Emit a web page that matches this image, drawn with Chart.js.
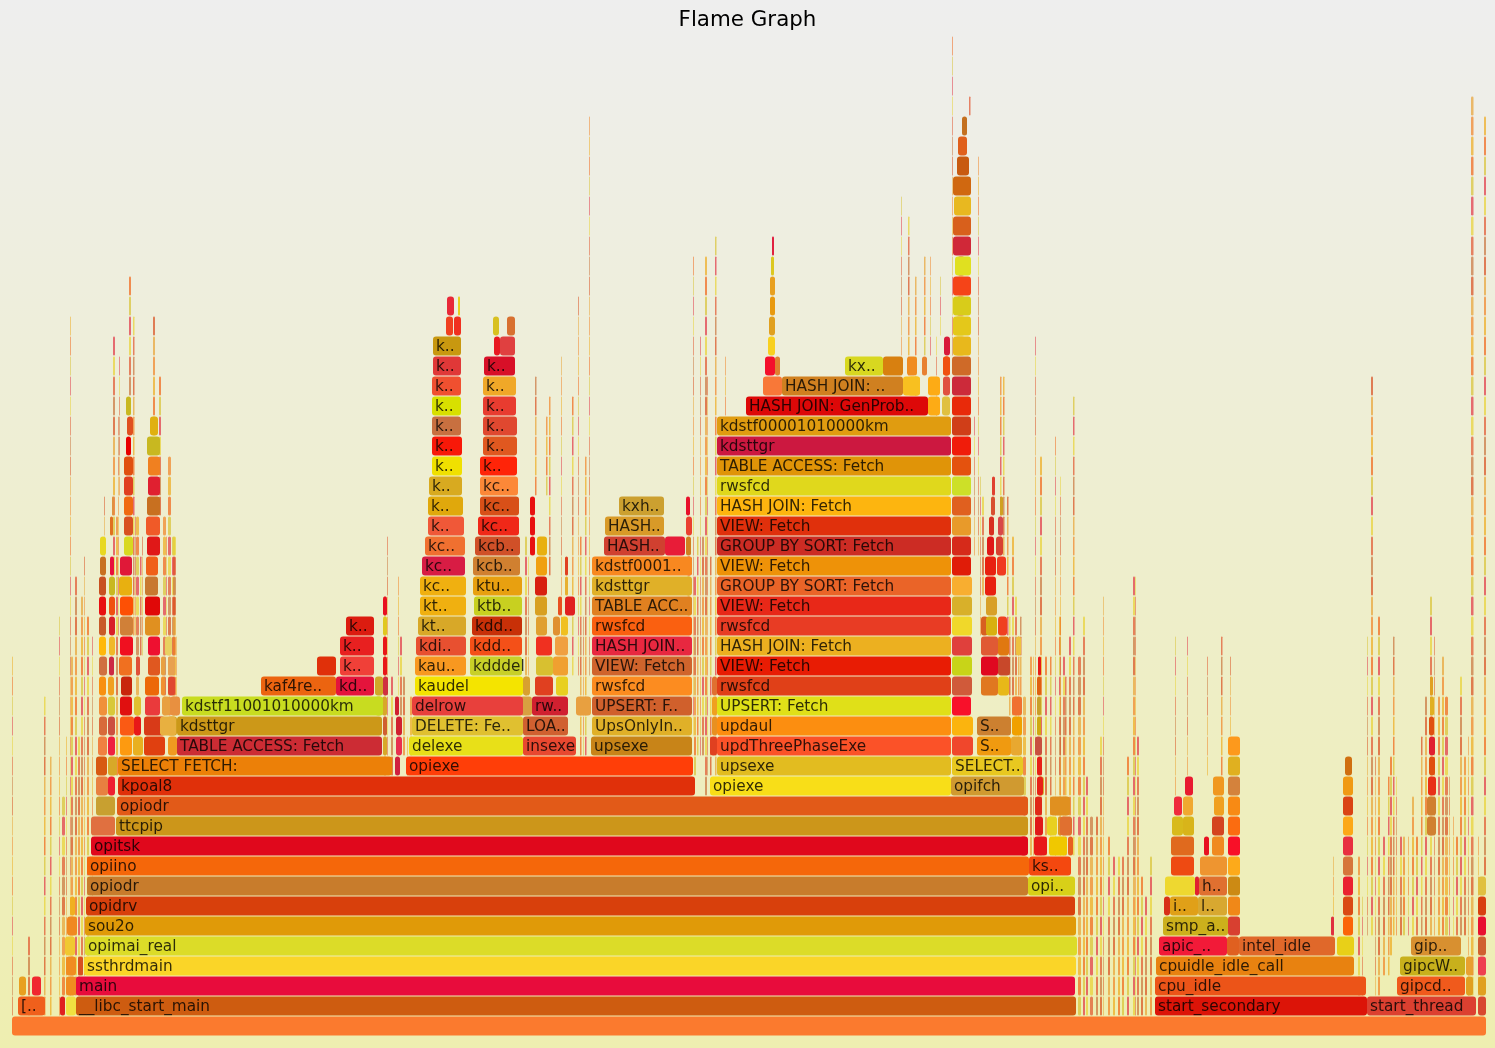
<!DOCTYPE html>
<html>
<head>
<meta charset="utf-8">
<title>Flame Graph</title>
<script src="https://cdn.jsdelivr.net/npm/chart.js@4"></script>
<style>
  html, body { margin: 0; padding: 0; }
  canvas { display: block; background: linear-gradient(#eeeeee, #eeeeb0); }
</style>
</head>
<body>
<canvas id="flame" width="1495" height="1048"></canvas>
<script>
// Frames with a name: one line per stack depth (index = depth), x in samples
const frameSpans = [
  [[12,1486]],
  [[18,45],[76,1076],[1155,1367],[1367,1476]],
  [[76,1075],[1155,1366],[1397,1465]],
  [[84,1076],[1156,1354],[1400,1465]],
  [[85,1077],[1159,1227],[1239,1335],[1411,1461]],
  [[85,1076],[1163,1228]],
  [[86,1075],[1170,1198],[1198,1227]],
  [[87,1028],[1028,1075],[1199,1227]],
  [[87,1029],[1029,1071]],
  [[91,1028]],
  [[116,1028]],
  [[117,1028]],
  [[118,695],[710,951],[951,1024]],
  [[118,392],[406,693],[717,951],[952,1023]],
  [[177,382],[409,523],[523,576],[591,692],[717,951],[977,1011]],
  [[177,382],[412,523],[523,568],[592,692],[717,951],[977,1011]],
  [[182,383],[412,523],[532,568],[592,692],[717,951]],
  [[261,336],[336,374],[415,523],[592,692],[717,951]],
  [[317,336],[340,374],[415,466],[470,522],[592,692],[717,951]],
  [[340,374],[416,466],[470,522],[592,692],[717,951]],
  [[346,374],[418,466],[472,522],[592,692],[717,951]],
  [[420,466],[474,522],[592,692],[717,951]],
  [[420,466],[473,522],[592,692],[717,951]],
  [[422,465],[473,520],[592,692],[717,951]],
  [[425,465],[475,520],[604,665],[665,685],[717,951]],
  [[428,464],[478,519],[605,664],[717,951]],
  [[428,463],[480,519],[619,664],[717,951]],
  [[429,462],[480,518],[717,951]],
  [[432,462],[480,517],[717,951]],
  [[432,462],[483,517],[717,951]],
  [[432,461],[483,517],[717,951]],
  [[432,461],[483,516],[746,928]],
  [[432,461],[483,516],[782,903]],
  [[433,461],[484,515],[845,883]],
  [[433,461],[500,515]]
];
const frameNames = [
  [''],
  ['[..','__libc_start_main','start_secondary','start_thread'],
  ['main','cpu_idle','gipcd..'],
  ['ssthrdmain','cpuidle_idle_call','gipcW..'],
  ['opimai_real','apic_..','intel_idle','gip..'],
  ['sou2o','smp_a..'],
  ['opidrv','i..','l..'],
  ['opiodr','opi..','h..'],
  ['opiino','ks..'],
  ['opitsk'],
  ['ttcpip'],
  ['opiodr'],
  ['kpoal8','opiexe','opifch'],
  ['SELECT FETCH:','opiexe','upsexe','SELECT..'],
  ['TABLE ACCESS: Fetch','delexe','insexe','upsexe','updThreePhaseExe','S..'],
  ['kdsttgr','DELETE: Fe..','LOA..','UpsOnlyIn..','updaul','S..'],
  ['kdstf11001010000km','delrow','rw..','UPSERT: F..','UPSERT: Fetch'],
  ['kaf4re..','kd..','kaudel','rwsfcd','rwsfcd'],
  ['','k..','kau..','kdddel','VIEW: Fetch','VIEW: Fetch'],
  ['k..','kdi..','kdd..','HASH JOIN..','HASH JOIN: Fetch'],
  ['k..','kt..','kdd..','rwsfcd','rwsfcd'],
  ['kt..','ktb..','TABLE ACC..','VIEW: Fetch'],
  ['kc..','ktu..','kdsttgr','GROUP BY SORT: Fetch'],
  ['kc..','kcb..','kdstf0001..','VIEW: Fetch'],
  ['kc..','kcb..','HASH..','','GROUP BY SORT: Fetch'],
  ['k..','kc..','HASH..','VIEW: Fetch'],
  ['k..','kc..','kxh..','HASH JOIN: Fetch'],
  ['k..','kc..','rwsfcd'],
  ['k..','k..','TABLE ACCESS: Fetch'],
  ['k..','k..','kdsttgr'],
  ['k..','k..','kdstf00001010000km'],
  ['k..','k..','HASH JOIN: GenProb..'],
  ['k..','k..','HASH JOIN: ..'],
  ['k..','k..','kx..'],
  ['k..','']
];
const frameColors = [
  ['#fb7a2e'],
  ['#f0601c','#ce5c10','#dc1408','#dc4030'],
  ['#e80c3c','#ec5418','#f05a1c'],
  ['#fad528','#e88210','#c8b01c'],
  ['#dcdc28','#f21a38','#e0682a','#d89030'],
  ['#e09a08','#ccb01c'],
  ['#d8400c','#e0a018','#d8a830'],
  ['#c87c2c','#d8d018','#e07030'],
  ['#f5670a','#f4480f'],
  ['#e0081c'],
  ['#cc961a'],
  ['#e25a18'],
  ['#e0300a','#f8de18','#d09a30'],
  ['#ec8008','#ff3e08','#e2bc20','#e8c820'],
  ['#cc2c34','#e8e018','#e84830','#c88418','#fb5228','#f09a10'],
  ['#cc9818','#e0c030','#d06030','#e0b028','#fc8e10','#cc8030'],
  ['#c8dc20','#e8403c','#d02030','#d0602c','#e0e018'],
  ['#ec6410','#e4143c','#f4e400','#fc8c20','#e04018'],
  ['#e0300a','#f04038','#f89820','#c8d028','#d0642c','#e81c04'],
  ['#e82020','#e85030','#f45018','#e82840','#ecb020'],
  ['#dc1c10','#d8a828','#c83008','#fa6010','#e83c24'],
  ['#f0b010','#c8d020','#e08020','#e82818'],
  ['#f0b010','#e8a010','#e0b028','#ea6428'],
  ['#d81c44','#d08030','#f88820','#ee9208'],
  ['#f07030','#d05028','#d04030','#e81c38','#cc2c24'],
  ['#f05838','#f02818','#d89a28','#e0300c'],
  ['#e0a80c','#d85018','#cca030','#fdb50f'],
  ['#d8aa20','#fc8838','#e0d81c'],
  ['#f0e000','#ff2408','#e09408'],
  ['#f81808','#e05820','#cc1840'],
  ['#c87040','#e04830','#e09c10'],
  ['#d8e000','#e83c30','#dd0808'],
  ['#f05030','#f0a828','#d08020'],
  ['#e03838','#d81028','#d8d820'],
  ['#c89810','#e04040']
];

// Unnamed wider frames: depth, start, end (same index across the four arrays)
const blockDepth = [
  19,19,19,19,19, 18,18,18,18,18,18,18, 17,17,17,17,17,17, 16,16,16,16,16,16,16,
  15,15,15,15,15,15, 14,14,14,14,14,14, 13,13, 12,12, 11, 10,
  20,20,20,20, 21,21,21,21, 22,22,22,22, 23,23,23,23, 24,24,24, 25,25,25, 26,26,26, 27,27, 28,28, 29,29, 30,30, 31,
  1,1,2,2,2,3,3,4,5,6,
  14,15,15,16,16,16,17,17,17,18,18,19,19,20,20,20,21,21,21,22,22,23,23,24,
  9,9,9,9,10,10,10,10,11,11,12,
  5,6,6,7,7,7,8,8,8,9,9,9,9,10,10,10,10,11,11,11,11,12,12,12,13,14,
  5,4,4,5,6,7,8,9,10,11,12,13,
  17,17,18,18,19,19,19,20,20,20,21,22,23,23,24,24,25,25,26,26,27,
  32,32,33,33,33,34,34,35,36,37,38,
  35,35,35,35,36,36,34,
  32,31,31,32,33,33,34,
  24,25,26,
  1,2,3,4,5,6,7, 2,3,
  32,33,33,35,36,37,38,39,
  12,13,14,15,16,17,18, 14,15,16,
  13,21,20,19,18,17,16,15,14,17,16,
  26,25,24,23,22,21,14,15,16,17,
  10,11,12,13,14,15,16,17
];
const blockStart = [
  99,109,120,148,165, 99,109,119,136,148,161,168, 99,108,121,145,161,168, 99,108,120,134,145,162,170,
  99,108,120,134,144,168, 98,108,120,133,144,168, 96,108, 96,108, 96, 91,
  99,109,120,145, 99,109,120,145, 99,109,119,145, 100,110,120,146, 100,124,147, 110,124,146, 124,147,112, 124,148, 124,148, 126,147, 127,150, 126,
  60,66,19,32,66,66,78,65,67,70,
  396,396,160,395,520,576,523,535,556,536,553,536,555,536,553,561,535,558,565,535,565,536,565,537,
  1020,1034,1049,1068,1035,1047,1058,1060,1035,1050,1037,
  1228,1164,1228,1165,1195,1228,1171,1200,1228,1171,1204,1212,1228,1172,1183,1212,1228,1174,1183,1214,1228,1185,1213,1228,1228,1228,
  1331,1227,1337,1343,1343,1343,1343,1343,1343,1343,1343,1345,
  981,998,981,998,981,998,1016,981,986,998,986,985,985,997,987,996,989,998,991,1000,992,
  903,908,907,922,943,944,955,955,956,957,957,
  446,454,493,507,447,458,494,
  928,928,942,943,943,765,768,
  530,530,530,
  1478,1478,1478,1478,1478,1478,1478, 1466,1466,
  763,883,775,769,770,770,771,772,
  1037,1037,1035,1037,1037,1037,1038, 1011,1012,1012,
  395,383,383,383,383,375,375,383,383,383,382,
  686,686,686,686,686,686,710,712,712,712,
  1427,1427,1428,1429,1429,1429,1430,1430
];
const blockEnd = [
  106,115,133,160,172, 107,114,132,140,160,165,175, 106,114,132,159,165,175, 107,115,132,141,160,170,180,
  107,115,134,141,165,177, 107,115,132,143,165,177, 107,117, 108,115, 115, 115,
  106,115,133,160, 106,115,133,160, 106,115,132,158, 106,114,132,158, 106,133,160, 113,133,160, 133,160,114, 133,160, 133,160, 131,160, 133,158, 131,
  65,76,26,41,76,76,83,75,77,75,
  402,402,176,399,532,591,530,553,568,553,568,552,568,547,560,568,547,562,575,547,568,547,568,547,
  1027,1047,1067,1073,1043,1057,1062,1072,1042,1070,1044,
  1240,1170,1240,1195,1199,1240,1194,1227,1240,1194,1209,1224,1240,1183,1194,1224,1240,1182,1193,1224,1240,1193,1224,1240,1240,1240,
  1334,1239,1354,1353,1353,1353,1353,1353,1353,1353,1353,1352,
  998,1009,998,1010,998,1009,1021,988,997,1007,997,996,996,1006,994,1003,994,1003,995,1003,995,
  920,920,917,927,950,950,965,965,965,965,965,
  453,461,499,515,454,460,500,
  940,940,950,950,950,775,775,
  535,535,535,
  1486,1486,1486,1486,1486,1486,1486, 1473,1473,
  782,903,780,775,775,775,774,774,
  1043,1042,1042,1041,1041,1041,1041, 1022,1022,1022,
  400,387,387,387,387,383,382,387,387,388,387,
  690,692,691,692,691,692,717,717,717,717,
  1436,1436,1436,1435,1435,1434,1434,1433
];
const blockColors = [
  '#ffb80a','#f0b828','#f01020','#ee1030','#e8d060', '#d07040','#cc2a44','#f07020','#e05038','#e05820','#e8a040','#e8a050', '#f89010','#f0a020','#c8260c','#ec6808','#f09030','#e04830', '#f0903a','#d8c83a','#e01010','#e0c030','#ea3a3c','#e8a040','#e89040',
  '#d86a3a','#cc5040','#fa5a14','#e81818','#d83a18','#d0a020', '#f08040','#ee2040','#fd9a10','#e8b020','#e04010','#f09a20', '#d85a12','#d8a828', '#e88040','#ee2030', '#c8a030', '#e07040',
  '#c85a28','#d82028','#d08038','#e09020', '#e81010','#f05010','#fd5005','#e00808', '#c85020','#c8b820','#e8b010','#c87830', '#c87020','#e8103c','#e01838','#f06018', '#e8d820','#d8d820','#e01818', '#e07020','#d85020','#f05a28', '#f06a10','#c87020','#e09040', '#e04020','#e02030', '#e05010','#f08020', '#e80000','#c8b820', '#e05020','#e0b010', '#c8b820',
  '#e02020','#f0e040','#e8a020','#f02830','#f08c20','#f08c20','#d85020','#f0c830','#f08820','#f0b020',
  '#e83050','#d02030','#e8b040','#d02030','#d8a040','#e8a040','#d8a030','#e04020','#e8d020','#d8c030','#f0a030','#f03020','#f0a040','#e0a030','#e09030','#f0c020','#d8a020','#e85020','#e02020','#d82010','#e8b030','#f0a010','#e04020','#e8b010',
  '#f03020','#e81818','#f0c800','#e86020','#e01818','#e8d020','#e09020','#e07030','#e02818','#e09020','#d8b030',
  '#d84030','#d83018','#f08818','#eed830','#e02030','#cc8a14','#ee4a12','#ee9530','#fdaa1a','#e06a1e','#e81020','#f08a20','#f81028','#d8ba1c','#d8b41a','#d4441f','#fb6c10','#ef2a3c','#f0a830','#f0a020','#f88a14','#e81a30','#f09820','#d4823c','#e0b020','#fd991c',
  '#e03040','#e06020','#e8d018','#fb6408','#da4a14','#ea2230','#d6763a','#e83040','#fca818','#da4414','#f09a14','#d06f10',
  '#e07820','#e8b818','#e00820','#c8482a','#e05a34','#e07810','#eec040','#d86020','#d8b010','#f04020','#d8a028','#e82010','#e82010','#f03a20','#e01818','#d84030','#d83020','#d84848','#d85030','#d0a020','#e04030',
  '#f8c020','#f8c020','#f08c20','#e88030','#f05010','#d81a3a','#e4c81a','#d8cc1a','#f54418','#e0e020','#e02038',
  '#f04020','#f03020','#d8c020','#d87030','#e82838','#e8d020','#e81820',
  '#fdab15','#fdab15','#e0c040','#e05040','#f05010','#f4102c','#f8d020',
  '#e81010','#e81010','#e81010',
  '#d84830','#e0a020','#ee4050','#d06030','#e81030','#d84010','#e0c040', '#e0a020','#e8a030',
  '#f87838','#d88010','#e08030','#e0a020','#e89a10','#e8a020','#dcc820','#e02040',
  '#e82018','#e82018','#c85040','#d0a810','#c8a028','#e06010','#e81818', '#e8a830','#f0a000','#f07030',
  '#d02040','#e81020','#e0c820','#e81818','#e81818','#d0a828','#c8d020','#d06030','#d8a828','#d03040','#d8a828',
  '#e8102a','#ea4030','#d08020','#f03020','#e0a020','#e8b020','#e04020','#e89020','#f0a020','#e07030',
  '#d08030','#d08030','#e83018','#e05010','#e02030','#e05010','#e0b020','#e0a020'
];

// Central tower above the SELECT.. frame, one colour per depth starting at depth 14
const towerBaseDepth = 14;
const towerStart = [952,952,952,952,952,952,952,952,952,952,952,952,952,952,952,952,952,952,952,952,953,953,953,953,955,953,953,954,953,957,958,962];
const towerEnd = [973,973,971,972,972,972,972,972,972,971,971,971,971,971,971,971,971,971,971,971,971,971,971,971,971,971,971,971,971,969,967,967];
const towerColors = ['#f0472c','#fbb40e','#f8102a','#d05a3a','#c8d418','#e0403c','#f0d82a','#d8b02a','#f8ae30','#e01c08','#d62a1a','#e89a2a','#e0601f','#cde028','#e4520e','#f01c0a','#d03e18','#e82a0a','#cc2a3a','#cf6a28','#e8b81c','#e4c81a','#d8cc1a','#f54418','#e0e020','#d02838','#d8601c','#e8b820','#d06810','#c85a10','#e0601c','#c47020'];

// Thin frames stacked into spikes: x, width, lowest depth, highest depth
const spikeX = [
  12,28,44,50,59,62,66,70,71,75,78,81,84,87,92,
  104,116,118,119,113,129,133,135,142,153,159,163,166,172,176,
  384,387,391,398,400,403,407,410,
  525,528,535,546,549,561,572,578,589,
  694,697,700,705,707,710,715,
  725,901,908,915,924,930,936,940,
  952,969,978,974,1012,1015,1018,
  1030,1033,1045,1059,1063,1069,
  1078,1083,1086,1090,1096,1100,1103,1108,1113,1118,1122,1127,1133,1135,1137,1141,1145,1150,
  1175,1187,1207,1221,1230,
  1333,1358,1362,1371,1375,1378,1383,1388,1390,1393,1396,1403,1408,1412,1416,1421,1425,1430,1434,1438,1442,1445,1449,1453,1456,1460,1464,1468,1471,1484,
  1020,1035,1040,1050,1055,1060,1065,1073,1023,
  136,140,168,173,980,982,1000,1003,1007,1009,
  580,583,585,1478,693,702,1367,1400
];
const spikeWidth = [
  1,2,1.5,1.5,1,3,1,1,2,2,2,2,1,2,1,
  1,2,1,1,2,2,1.5,1,1,2,2,3,1,3,1,
  2,1,2,1,2,2,1,2,
  2,1,1.5,1.5,1.5,1,1.5,1,1,
  2,1.5,1,2,1,1.5,1.5,
  1,1,1.5,1.5,1.5,1,1,1,
  1,1.5,1,1,2,2,1.5,
  2,1,2,2,2,2,
  3,2,2,3,2,2,1,2,2,2,2,2,2,1,2,2,2,2,
  1,1,1,1.5,1,
  1,2,1,2,1,2,2,1.5,2,1.5,1,2,1,2,2,1.5,2,2,1,2,2,3,1,1,2,2,2,1,2.5,2,
  1.5,1,2,1.5,1,1,1.5,1.5,3,
  3,1.5,3,3,1,2,1.5,1.5,1.5,1.5,
  1.5,1,1.5,1,1,2,1,2
];
const spikeFrom = [
  1,1,1,1,1,1,2,2,2,2,2,3,3,4,7,
  20,13,20,27,23,32,20,20,19,30,26,16,20,16,16,
  13,14,13,17,16,14,13,14,
  17,17,27,27,23,20,18,18,18,
  13,14,14,12,13,13,13,
  31,33,33,32,34,34,31,35,
  34,46,24,24,16,15,14,
  9,9,9,10,9,10,
  1,1,1,1,1,1,1,1,1,1,1,1,1,1,1,1,1,1,
  12,13,13,9,15,
  5,2,2,5,2,2,3,3,4,5,5,5,5,5,5,5,5,5,5,5,5,5,5,5,5,5,5,2,2,8,
  13,9,9,9,9,9,9,9,11,
  16,19,15,16,20,22,24,24,20,16,
  14,14,14,2,15,14,5,5
];
const spikeTo = [
  18,4,16,13,20,11,14,35,18,22,14,21,23,20,19,
  26,25,30,33,34,37,35,25,24,35,32,25,24,24,19,
  21,24,17,22,19,17,14,16,
  24,23,32,30,31,33,31,36,45,
  22,24,34,38,32,23,39,
  33,41,40,37,38,38,34,37,
  49,46,43,30,24,21,19,
  18,18,18,20,18,19,
  18,20,12,10,10,14,21,9,8,8,8,13,22,22,14,7,6,8,
  19,19,18,19,18,
  8,8,6,32,13,20,9,12,13,19,12,9,9,11,9,14,16,21,19,16,18,16,12,10,9,17,13,14,46,45,
  20,34,28,18,29,27,17,31,16,
  25,23,28,24,27,26,32,32,26,20,
  24,20,28,9,38,24,19,9
];

const spikeColors = ['#e8a030','#e05028','#d8c030','#f08020','#c87038','#e03040','#eea818','#d84818','#e8d030','#f06010'];

const frames = [];
const barColors = [];
// spikes go under everything else
spikeX.forEach((x, i) => {
  for (let d = spikeFrom[i]; d <= spikeTo[i]; d++) {
    frames.push({ x: [x, x + spikeWidth[i]], y: d, name: '' });
    // thin ones look washed out in the original
    barColors.push(spikeColors[(d * 7 + i * 3) % spikeColors.length] + (spikeWidth[i] < 1.5 ? '80' : 'b0'));
  }
});
blockDepth.forEach((d, i) => {
  frames.push({ x: [blockStart[i], blockEnd[i]], y: d, name: '' });
  barColors.push(blockColors[i]);
});
towerColors.forEach((c, i) => {
  frames.push({ x: [towerStart[i], towerEnd[i]], y: towerBaseDepth + i, name: '' });
  barColors.push(c);
});
frameSpans.forEach((spans, d) => {
  spans.forEach((s, i) => {
    frames.push({ x: s, y: d, name: frameNames[d][i] });
    barColors.push(frameColors[d][i]);
  });
});

// Draws the frame names inside their bars
const frameLabels = {
  id: 'frameLabels',
  afterDatasetsDraw(chart) {
    const ctx = chart.ctx;
    ctx.save();
    ctx.font = '15.3px "DejaVu Sans"';
    ctx.fillStyle = 'rgba(0,0,0,0.8)';
    ctx.textBaseline = 'middle';
    chart.getDatasetMeta(0).data.forEach((bar, i) => {
      if (frames[i].name) {
        ctx.fillText(frames[i].name, bar.base + 3, bar.y + 1);
      }
    });
    ctx.restore();
  }
};

new Chart(document.getElementById('flame'), {
  type: 'bar',
  data: {
    datasets: [{
      data: frames,
      backgroundColor: barColors,
      barThickness: 19,
      borderRadius: 3,
      borderSkipped: false,
      inflateAmount: 0,
      clip: false
    }]
  },
  options: {
    indexAxis: 'y',
    responsive: false,
    animation: false,
    layout: { padding: 0 },
    scales: {
      x: { type: 'linear', min: 0, max: 1495, display: false },
      y: { type: 'linear', offset: false, min: -1.1, max: 49.4, display: false }
    },
    plugins: {
      legend: { display: false },
      tooltip: { enabled: false },
      title: {
        display: true,
        text: 'Flame Graph',
        color: '#000',
        font: { family: '"DejaVu Sans"', size: 21.4, weight: 'normal', lineHeight: 1.2 },
        padding: { top: 8, bottom: 4.3 }
      }
    }
  },
  plugins: [frameLabels]
});
</script>
</body>
</html>
